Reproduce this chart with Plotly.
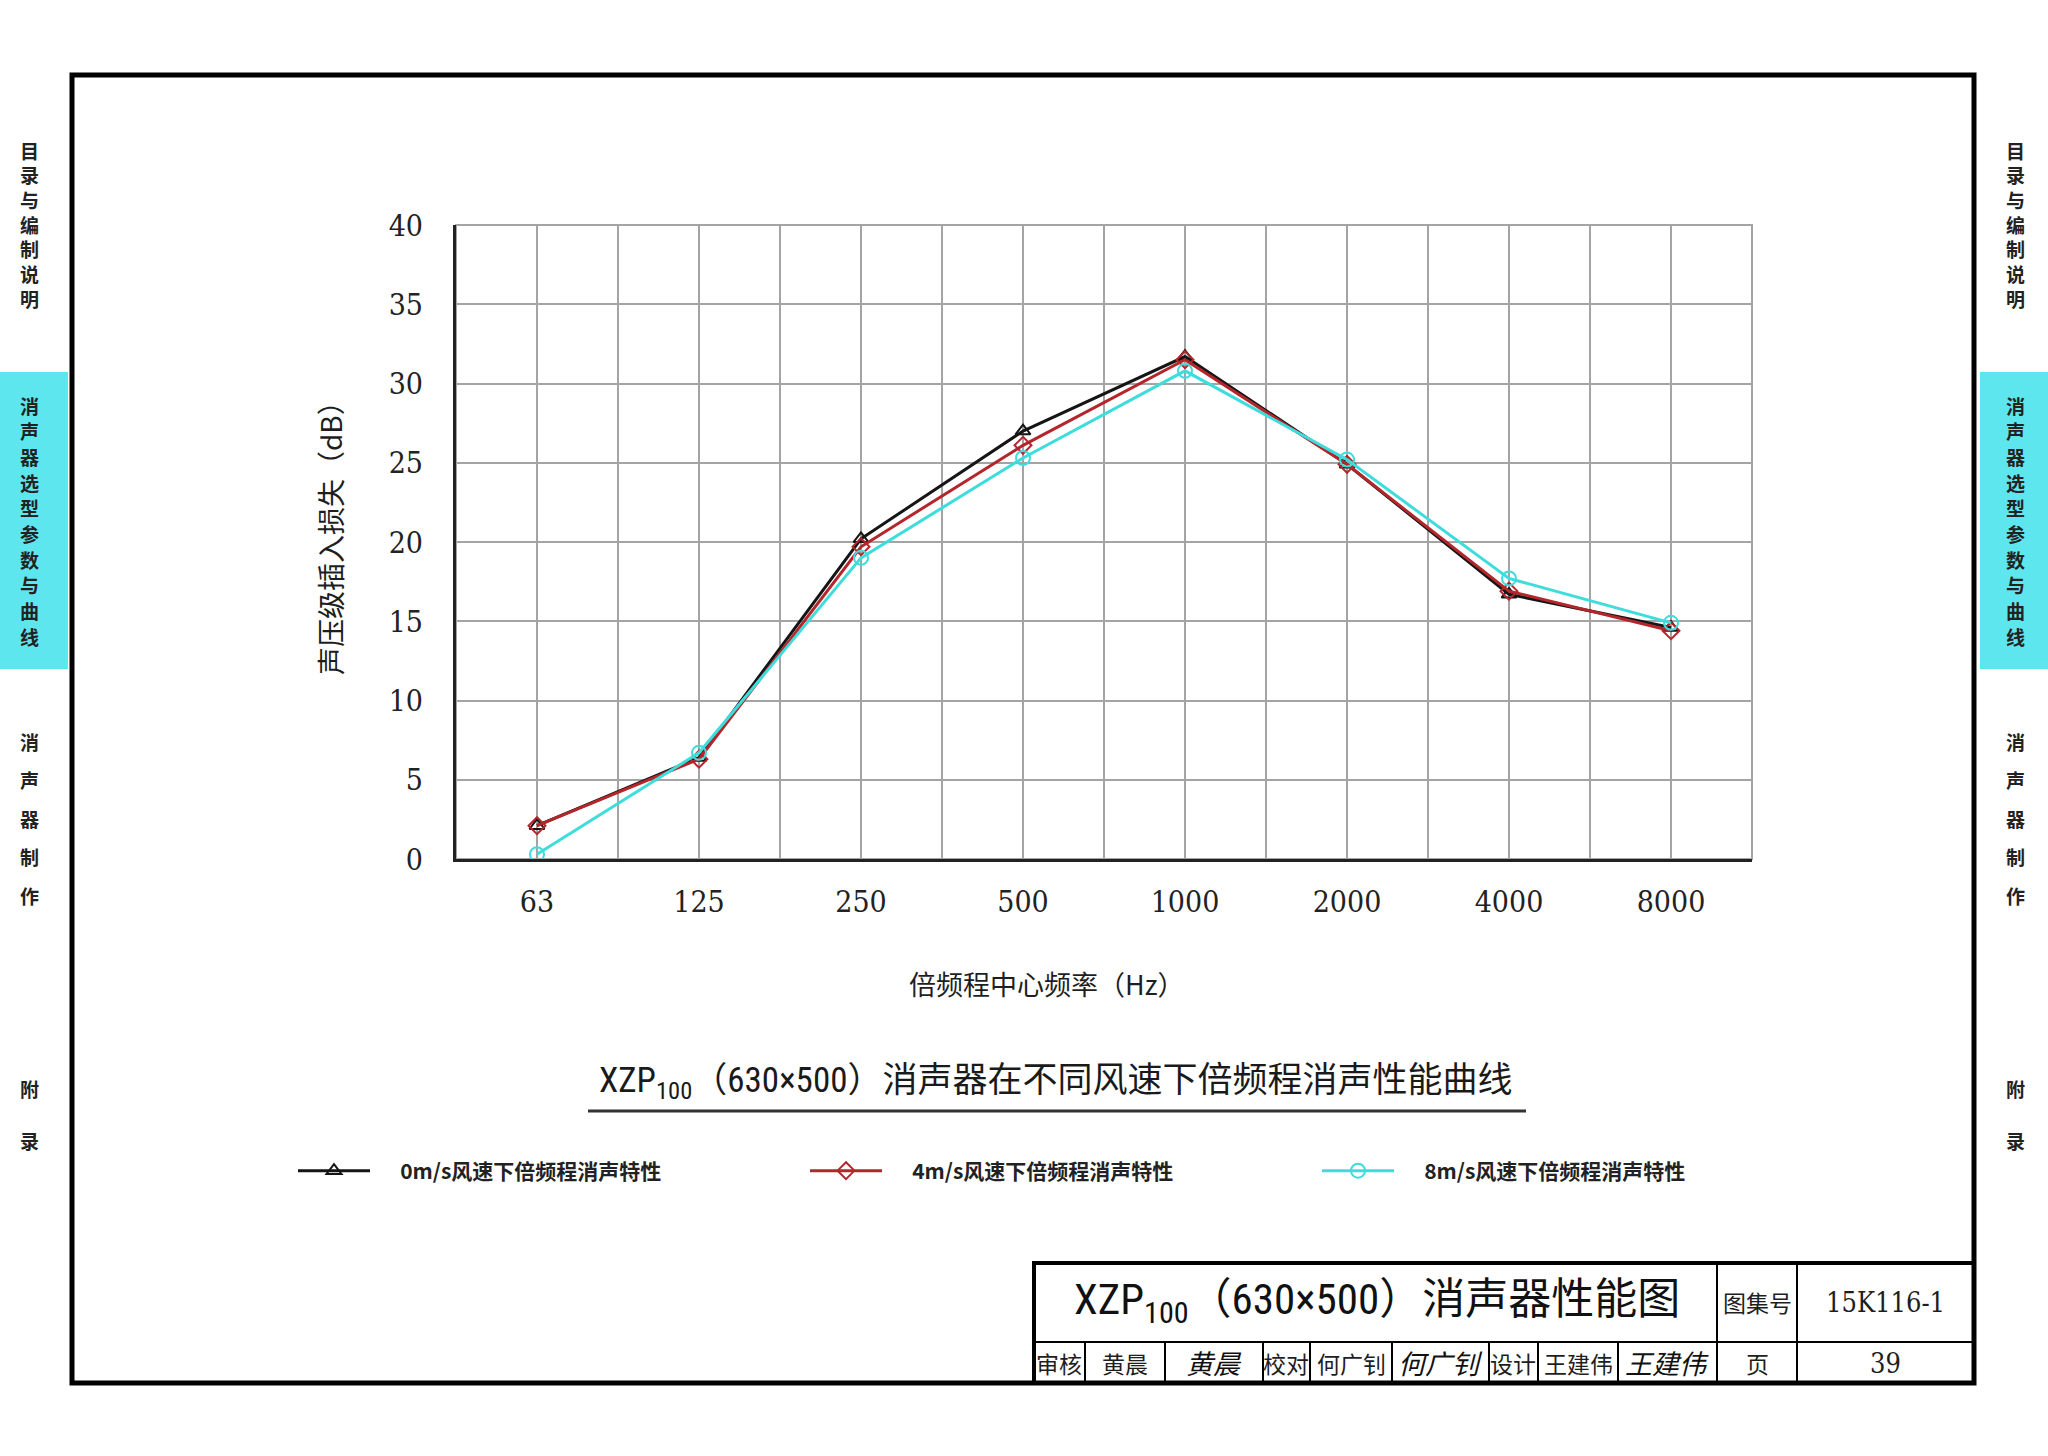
import plotly.graph_objects as go

# ---------------- data ----------------
freq_labels = ["63", "125", "250", "500", "1000", "2000", "4000", "8000"]
il_0ms = [2.1, 6.4, 20.2, 27.0, 31.7, 24.9, 16.7, 14.6]
il_4ms = [2.1, 6.3, 19.7, 26.1, 31.5, 24.9, 16.9, 14.4]
il_8ms = [0.3, 6.7, 19.0, 25.3, 30.8, 25.2, 17.7, 14.9]
series_names = ["0m/s风速下倍频程消声特性", "4m/s风速下倍频程消声特性", "8m/s风速下倍频程消声特性"]
y_ticks = [0, 5, 10, 15, 20, 25, 30, 35, 40]

chart_title = "XZP<sub>100</sub>（630×500）消声器在不同风速下倍频程消声性能曲线"
x_title = "倍频程中心频率（Hz）"
y_title = "声压级插入损失（dB）"
block_title = "XZP<sub>100</sub>（630×500）消声器性能图"

# ---------------- geometry helpers ----------------
W, H = 2048, 1456
L, R, T, B = 456, 1752, 225, 859


def px(x):
    return (x - L) / (R - L)


def py(y):
    return (B - y) / (B - T)


CJK = "Noto Sans CJK SC"
SERIF = "DejaVu Serif Condensed, Liberation Serif, Noto Sans CJK SC"
NARROW = "Liberation Sans Narrow, Roboto Condensed, Noto Sans CJK SC"

colors = ["#151515", "#b3262b", "#3fdcdc"]
symbols = ["triangle-up-open", "diamond-open", "circle-open"]
msizes = [13, 13, 14]
values = [il_0ms, il_4ms, il_8ms]
legends = ["legend", "legend2", "legend3"]

x_idx = list(range(len(freq_labels)))

fig = go.Figure()
for i in range(3):
    fig.add_trace(go.Scatter(
        x=x_idx, y=values[i], name="\u2003\u2009" + series_names[i], mode="lines+markers",
        line=dict(color=colors[i], width=3),
        marker=dict(symbol=symbols[i], size=msizes[i], color=colors[i],
                    line=dict(width=2, color=colors[i])),
        legend=legends[i], showlegend=True,
    ))

grid_col = "#a4a4a4"
fig.update_xaxes(
    range=[-0.5, len(freq_labels) - 0.5], tickvals=x_idx, ticktext=freq_labels,
    showgrid=True, gridcolor=grid_col, gridwidth=2,
    minor=dict(tickmode="linear", tick0=-0.5, dtick=0.5, showgrid=True,
               gridcolor=grid_col, gridwidth=2),
    showline=True, linecolor="#222222", linewidth=3, zeroline=False,
    ticks="", ticklabelstandoff=14,
    tickfont=dict(family=SERIF, size=30, color="#222222"), fixedrange=True,
)
fig.update_yaxes(
    range=[0, 40], tickvals=y_ticks,
    showgrid=True, gridcolor=grid_col, gridwidth=2,
    showline=True, linecolor="#222222", linewidth=3, zeroline=False,
    ticks="", ticklabelstandoff=24,
    tickfont=dict(family=SERIF, size=30, color="#222222"), fixedrange=True,
)

shapes = []
# plot border (gray top/right)
shapes.append(dict(type="rect", xref="paper", yref="paper", x0=0, x1=1, y0=0, y1=1,
                   line=dict(color=grid_col, width=2), layer="below"))
# outer frame
shapes.append(dict(type="rect", xref="paper", yref="paper", x0=px(72), x1=px(1974),
                   y0=py(75), y1=py(1383), line=dict(color="#000000", width=5)))
# side tabs
tab_col = "#5ee6ef"
shapes.append(dict(type="rect", xref="paper", yref="paper", x0=px(0), x1=px(68),
                   y0=py(372), y1=py(669), fillcolor=tab_col, line=dict(width=0), layer="below"))
shapes.append(dict(type="rect", xref="paper", yref="paper", x0=px(1980), x1=px(2048),
                   y0=py(372), y1=py(669), fillcolor=tab_col, line=dict(width=0), layer="below"))
# chart title underline
shapes.append(dict(type="line", xref="paper", yref="paper", x0=px(588), x1=px(1526),
                   y0=py(1111), y1=py(1111), line=dict(color="#333333", width=3)))
# title block
shapes.append(dict(type="rect", xref="paper", yref="paper", x0=px(1034), x1=px(1974),
                   y0=py(1263), y1=py(1383), line=dict(color="#000000", width=4)))
shapes.append(dict(type="line", xref="paper", yref="paper", x0=px(1034), x1=px(1974),
                   y0=py(1342), y1=py(1342), line=dict(color="#000000", width=2)))
for xv in [1717, 1797]:
    shapes.append(dict(type="line", xref="paper", yref="paper", x0=px(xv), x1=px(xv),
                       y0=py(1263), y1=py(1383), line=dict(color="#000000", width=2)))
for xv in [1085, 1165, 1263, 1310, 1392, 1489, 1538, 1618]:
    shapes.append(dict(type="line", xref="paper", yref="paper", x0=px(xv), x1=px(xv),
                       y0=py(1342), y1=py(1383), line=dict(color="#000000", width=2)))

ann = []


def text(x, y, s, size, family=CJK, color="#1e1e1e", angle=0, xanchor="center", weight="normal"):
    ann.append(dict(xref="paper", yref="paper", x=px(x), y=py(y), text=s, showarrow=False,
                    xanchor=xanchor, yanchor="middle", textangle=angle,
                    font=dict(family=family, size=size, color=color, weight=weight)))


# axis titles and chart title
text(330, 531, y_title, 28, angle=-90)
text(1046, 983, x_title, 27)
text(597, 1082, chart_title, 35, family=NARROW, xanchor="left", color="#1a1a1a")

# side tabs (vertical text, one character per line)
side_groups = [("目录与编制说明", 150, 24.7), ("消声器选型参数与曲线", 405, 25.7),
               ("消声器制作", 741, 38.5), ("附录", 1088, 52)]
for cx in [29, 2015]:
    for s, y0, step in side_groups:
        for k, ch in enumerate(s):
            text(cx, y0 + k * step, ch, 19, weight="bold", color="#222222")

# title block texts
text(1377, 1302, block_title, 43, family=NARROW, color="#111111")
text(1757, 1302, "图集号", 23)
text(1885, 1302, "15K116-1", 27, family=SERIF)
row = [(1059, "审核"), (1125, "黄晨"), (1286, "校对"), (1351, "何广钊"),
       (1513, "设计"), (1578, "王建伟"), (1757, "页")]
for xv, s in row:
    text(xv, 1363, s, 23)
text(1885, 1363, "39", 27, family=SERIF)
for xv, s in [(1214, "黄晨"), (1440, "何广钊"), (1667, "王建伟")]:
    text(xv, 1362, "<i>" + s + "</i>", 27, color="#111111")

leg_x = [293, 805, 1317]
layout_legends = {}
for i, lg in enumerate(legends):
    layout_legends[lg] = dict(
        orientation="h", x=px(leg_x[i]), xanchor="left", y=py(1171), yanchor="middle",
        bgcolor="rgba(0,0,0,0)", borderwidth=0, itemwidth=72,
        font=dict(family=CJK, size=21, color="#222222", weight="bold"),
    )

fig.update_layout(
    width=W, height=H, autosize=False,
    margin=dict(l=L, r=W - R, t=T, b=H - B, pad=0),
    paper_bgcolor="white", plot_bgcolor="white",
    shapes=shapes, annotations=ann,
    **layout_legends,
)

fig.write_html("out.html", config={"displayModeBar": False},
               post_script="document.body.style.margin='0px';")
